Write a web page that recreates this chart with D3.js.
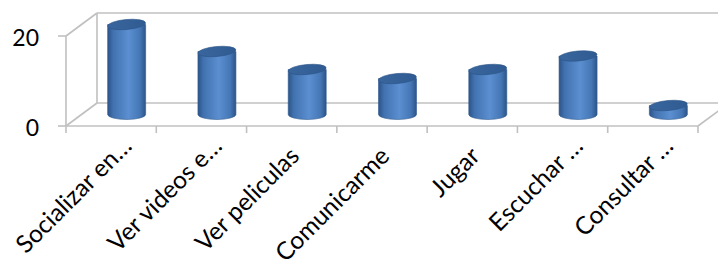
<!DOCTYPE html>
<html>
<head>
<meta charset="utf-8">
<script src="https://cdn.jsdelivr.net/npm/d3@7"></script>
<style>
  body { margin: 0; background: #fff; }
  svg { display: block; font-family: Lato, "Open Sans", sans-serif; }
</style>
</head>
<body>
<svg width="718" height="269"></svg>
<script>
// data
var categories = ["Socializar en...", "Ver videos e...", "Ver peliculas", "Comunicarme", "Jugar", "Escuchar ...", "Consultar ..."];
var values = [20, 14, 10, 8, 10, 13, 2];
var yTicks = [0, 20];

var svg = d3.select("svg");
var W = 718, H = 269;

// front plane of the box, and depth offset to the back wall
var x0 = 66, x1 = 698;
var depth = { dx: 31, dy: -23 };

var x = d3.scaleBand().domain(categories).range([x0, x1]);
var y = d3.scaleLinear().domain([0, 20]).range([126, 36]);

var grid = "#c0c0c0";

// gradients for cylinders
var defs = svg.append("defs");
var bodyGrad = defs.append("linearGradient").attr("id", "cyl")
    .attr("x1", "0%").attr("x2", "100%").attr("y1", "0%").attr("y2", "0%");
bodyGrad.append("stop").attr("offset", "0%").attr("stop-color", "#2c5488");
bodyGrad.append("stop").attr("offset", "15%").attr("stop-color", "#4272b0");
bodyGrad.append("stop").attr("offset", "55%").attr("stop-color", "#5b8fd1");
bodyGrad.append("stop").attr("offset", "85%").attr("stop-color", "#4577b5");
bodyGrad.append("stop").attr("offset", "100%").attr("stop-color", "#2c5488");
var topGrad = defs.append("linearGradient").attr("id", "cyltop")
    .attr("x1", "0%").attr("x2", "100%").attr("y1", "0%").attr("y2", "0%");
topGrad.append("stop").attr("offset", "0%").attr("stop-color", "#3a669e");
topGrad.append("stop").attr("offset", "100%").attr("stop-color", "#2f5b92");

var g = svg.append("g");

// back wall grid lines
yTicks.forEach(function(t) {
    g.append("line")
        .attr("x1", x0 + depth.dx).attr("x2", W + 20)
        .attr("y1", y(t) + depth.dy).attr("y2", y(t) + depth.dy)
        .attr("stroke", grid).attr("stroke-width", 1.6);
    // side wall diagonal
    g.append("line")
        .attr("x1", x0).attr("y1", y(t))
        .attr("x2", x0 + depth.dx).attr("y2", y(t) + depth.dy)
        .attr("stroke", grid).attr("stroke-width", 1.6);
});
// back wall left edge
g.append("line")
    .attr("x1", x0 + depth.dx).attr("x2", x0 + depth.dx)
    .attr("y1", y(0) + depth.dy).attr("y2", y(20) + depth.dy)
    .attr("stroke", grid).attr("stroke-width", 1.6);
// floor right diagonal
g.append("line")
    .attr("x1", x1).attr("y1", y(0))
    .attr("x2", x1 + depth.dx).attr("y2", y(0) + depth.dy)
    .attr("stroke", grid).attr("stroke-width", 1.6);

// front y axis
g.append("line")
    .attr("x1", x0).attr("x2", x0)
    .attr("y1", y(0)).attr("y2", y(20))
    .attr("stroke", grid).attr("stroke-width", 1.6);
yTicks.forEach(function(t) {
    g.append("line")
        .attr("x1", x0 - 8).attr("x2", x0)
        .attr("y1", y(t)).attr("y2", y(t))
        .attr("stroke", grid).attr("stroke-width", 1.6);
    g.append("text")
        .attr("x", 39).attr("y", y(t) + 2)
        .attr("dy", "0.36em")
        .attr("text-anchor", "end")
        .attr("font-size", 23)
        .attr("fill", "#000")
        .text(t);
});

// front x axis + ticks
g.append("line")
    .attr("x1", x0).attr("x2", x1)
    .attr("y1", y(0)).attr("y2", y(0))
    .attr("stroke", grid).attr("stroke-width", 1.6);
var tickXs = categories.map(function(c) { return x(c); }).concat([x1]);
tickXs.forEach(function(tx) {
    g.append("line")
        .attr("x1", tx).attr("x2", tx)
        .attr("y1", y(0)).attr("y2", y(0) + 7)
        .attr("stroke", grid).attr("stroke-width", 1.6);
});

// bars as cylinders at half depth
var r = 19, ry = 5;
var bars = g.selectAll(".bar").data(values).enter().append("g").attr("class", "bar");
bars.each(function(v, i) {
    var cx = x(categories[i]) + x.bandwidth() / 2 + depth.dx / 2;
    var yb = y(0) + depth.dy / 2;
    var yt = y(v) + depth.dy / 2;
    var b = d3.select(this);
    var p = "M" + (cx - r) + "," + yt +
        " L" + (cx - r) + "," + yb +
        " A" + r + "," + ry + " 0 0 0 " + (cx + r) + "," + yb +
        " L" + (cx + r) + "," + yt + " Z";
    b.append("path").attr("d", p).attr("fill", "url(#cyl)")
        .attr("stroke", "#2f5a8f").attr("stroke-width", 0.6);
    b.append("ellipse")
        .attr("cx", cx).attr("cy", yt)
        .attr("rx", r).attr("ry", ry)
        .attr("transform", "rotate(-5," + cx + "," + yt + ")")
        .attr("fill", "url(#cyltop)")
        .attr("stroke", "#2c5488").attr("stroke-width", 0.6);
});

// rotated category labels (truncated ones sit a bit further up, like Excel does)
g.selectAll(".lab").data(categories).enter().append("text")
    .attr("class", "lab")
    .attr("text-anchor", "end")
    .attr("font-size", 24.5)
    .attr("fill", "#000")
    .attr("transform", function(d) {
        var cx = x(d) + x.bandwidth() / 2;
        var cut = d.indexOf("...") >= 0;
        var px = cut ? cx + 22 : cx + 9;
        var py = cut ? 147.5 : 157.5;
        return "translate(" + px + "," + py + ") rotate(-45)";
    })
    .text(function(d) { return d.replace("...", "\u2026"); });
</script>
</body>
</html>
